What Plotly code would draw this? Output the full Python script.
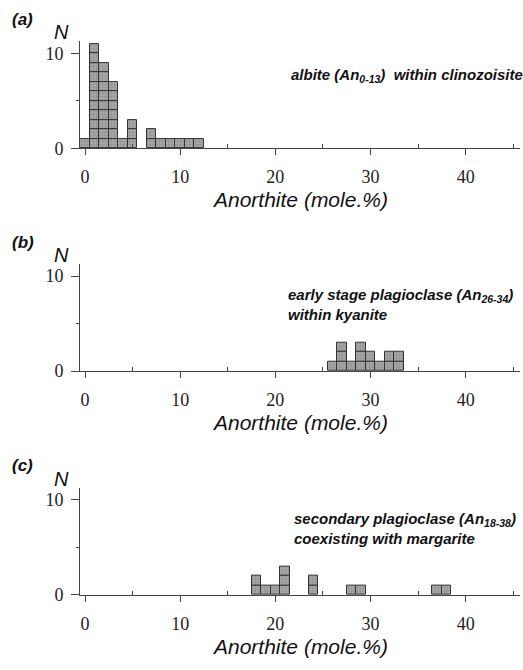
import plotly.graph_objects as go

# ---- data ----
bins_a = [0, 1, 2, 3, 4, 5, 6, 7, 8, 9, 10, 11, 12]
counts_a = [1, 11, 9, 7, 1, 3, 0, 2, 1, 1, 1, 1, 1]

bins_b = [26, 27, 28, 29, 30, 31, 32, 33]
counts_b = [1, 3, 1, 3, 2, 1, 2, 2]

bins_c = [18, 19, 20, 21, 24, 28, 29, 37, 38]
counts_c = [2, 1, 1, 3, 2, 1, 1, 1, 1]

x_ticks = [0, 10, 20, 30, 40]
x_minor = [5, 15, 25, 35, 45]
y_ticks = [0, 10]
y_minor = [5]

panel_tags = ["(a)", "(b)", "(c)"]
panel_notes = [
    "albite (An<sub>0-13</sub>)\u00a0\u00a0within clinozoisite",
    "early stage plagioclase (An<sub>26-34</sub>)<br>within kyanite",
    "secondary plagioclase (An<sub>18-38</sub>)<br>coexisting with margarite",
]
x_title = "Anorthite (mole.%)"
y_title = "N"

# ---- layout geometry (pixels) ----
W, H = 523, 670
axis_px = [150.7, 376.7, 604.0]     # y pixel of the x-axis line for each panel
panel_h = 109.0
x_left_px, x_right_px = 80.0, 520.0
x_range = [-0.525, 45.7]
y_range = [0, 11.3]
note_pos = [(289, 77), (286, 309), (292, 536)]

def py(px):
    return 1 - px / H

fig = go.Figure()

datasets = [(bins_a, counts_a), (bins_b, counts_b), (bins_c, counts_c)]
for i, (bins, counts) in enumerate(datasets):
    xs, bases, ys = [], [], []
    for b, c in zip(bins, counts):
        for k in range(c):
            xs.append(b)
            bases.append(k)
            ys.append(1)
    sfx = "" if i == 0 else str(i + 1)
    fig.add_trace(go.Bar(
        x=xs, y=ys, base=bases, width=1,
        xaxis="x" + sfx, yaxis="y" + sfx,
        marker=dict(
            color="#a6a6a6",
            line=dict(color="#333333", width=1),
            pattern=dict(shape="+", size=3, solidity=0.3,
                         fgcolor="#707070", bgcolor="#a8a8a8"),
        ),
        showlegend=False, hoverinfo="skip",
    ))

layout = dict(
    width=W, height=H, autosize=False,
    margin=dict(l=0, r=0, t=0, b=0),
    paper_bgcolor="white", plot_bgcolor="white",
    barmode="overlay", bargap=0,
    showlegend=False,
)

tick_font = dict(family="Liberation Serif, Times New Roman, serif", size=18, color="#222222")
annotations = []
for i in range(3):
    sfx = "" if i == 0 else str(i + 1)
    base = axis_px[i]
    layout["xaxis" + sfx] = dict(
        domain=[x_left_px / W, x_right_px / W],
        range=x_range, anchor="y" + sfx,
        showline=True, linecolor="#444444", linewidth=1,
        showgrid=False, zeroline=False,
        tickmode="array", tickvals=x_ticks,
        ticks="outside", ticklen=6, tickcolor="#444444", tickwidth=1,
        minor=dict(tickmode="array", tickvals=x_minor, ticks="inside",
                   ticklen=4, tickcolor="#444444", tickwidth=1, showgrid=False),
        tickfont=tick_font, ticklabelstandoff=6,
        fixedrange=True,
    )
    layout["yaxis" + sfx] = dict(
        domain=[py(base), py(base - panel_h)],
        range=y_range, anchor="x" + sfx,
        showline=True, linecolor="#444444", linewidth=1,
        showgrid=False, zeroline=False,
        tickmode="array", tickvals=y_ticks,
        ticks="outside", ticklen=8, tickcolor="#444444", tickwidth=1,
        minor=dict(tickmode="array", tickvals=y_minor, ticks="outside",
                   ticklen=3, tickcolor="#444444", tickwidth=1, showgrid=False),
        tickfont=tick_font, ticklabelstandoff=4,
        fixedrange=True,
    )
    # panel tag
    annotations.append(dict(
        text="<b><i>" + panel_tags[i] + "</i></b>", x=10 / W, y=py(base - 131),
        xref="paper", yref="paper", xanchor="left", yanchor="middle",
        showarrow=False,
        font=dict(family="Liberation Sans, Arial, sans-serif", size=17, color="#111111"),
    ))
    # N label
    annotations.append(dict(
        text="<i>" + y_title + "</i>", x=61 / W, y=py(base - 118),
        xref="paper", yref="paper", xanchor="center", yanchor="middle",
        showarrow=False,
        font=dict(family="Liberation Sans, Arial, sans-serif", size=20, color="#111111"),
    ))
    # x title
    annotations.append(dict(
        text="<i>" + x_title + "</i>", x=300 / W, y=py(base + 52),
        xref="paper", yref="paper", xanchor="center", yanchor="middle",
        showarrow=False,
        font=dict(family="Liberation Sans, Arial, sans-serif", size=21, color="#111111"),
    ))
    # note
    nx, ny = note_pos[i]
    annotations.append(dict(
        text="<b><i>" + panel_notes[i] + "</i></b>", x=nx / W, y=py(ny),
        xref="paper", yref="paper", xanchor="left", yanchor="middle", align="left",
        showarrow=False,
        font=dict(family="Liberation Sans, Arial, sans-serif", size=15, color="#111111"),
    ))

layout["annotations"] = annotations
fig.update_layout(**layout)
fig.write_html("out.html")
